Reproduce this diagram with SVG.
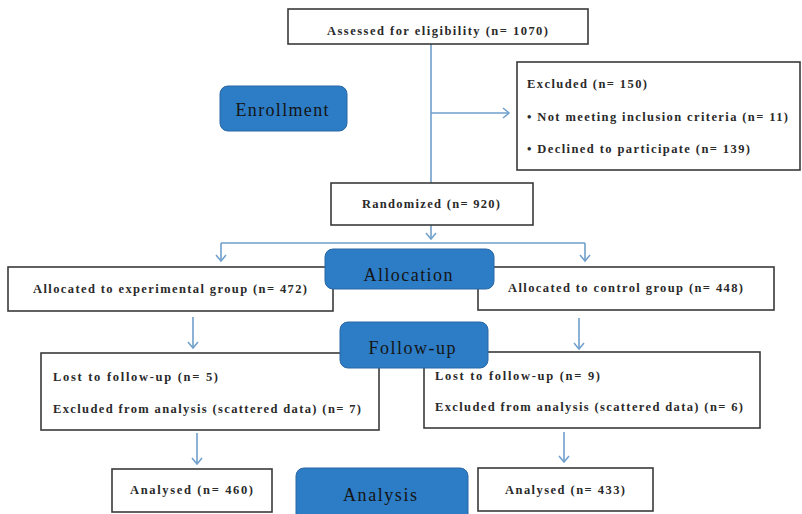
<svg xmlns="http://www.w3.org/2000/svg" width="802" height="514" viewBox="0 0 802 514">
<defs>
<style>
.box{fill:#fff;stroke:#3a3a3a;stroke-width:1.6}
.stage{fill:#2c7cc6;stroke:#2a67a3;stroke-width:1}
.t{font-family:"Liberation Serif",serif;font-size:12.5px;font-weight:bold;fill:#2a2a2a}
.h{font-family:"Liberation Serif",serif;font-size:18px;fill:#151515;text-anchor:middle}
.c{fill:none;stroke:#6f9fcb;stroke-width:1.6}
</style>
<marker id="arr" markerUnits="userSpaceOnUse" markerWidth="14" markerHeight="14" refX="7" refY="7" orient="auto">
<path d="M1,2 L7,7 L1,12" fill="none" stroke="#6f9fcb" stroke-width="1.5"/>
</marker>
</defs>
<rect width="802" height="514" fill="#fff"/>

<g id="connectors">
<line class="c" x1="431" y1="44" x2="431" y2="183"/>
<line class="c" x1="431" y1="113" x2="509" y2="113" marker-end="url(#arr)"/>
<line class="c" x1="431" y1="225" x2="431" y2="239" marker-end="url(#arr)"/>
<line class="c" x1="221" y1="243" x2="585" y2="243"/>
<line class="c" x1="221" y1="243" x2="221" y2="261" marker-end="url(#arr)"/>
<line class="c" x1="585" y1="243" x2="585" y2="261" marker-end="url(#arr)"/>
<line class="c" x1="193" y1="317" x2="193" y2="348" marker-end="url(#arr)"/>
<line class="c" x1="579" y1="318" x2="579" y2="349" marker-end="url(#arr)"/>
<line class="c" x1="197" y1="433" x2="197" y2="464" marker-end="url(#arr)"/>
<line class="c" x1="564" y1="432" x2="564" y2="462" marker-end="url(#arr)"/>
</g>

<g id="assessed">
<rect class="box" x="288" y="9" width="300" height="35"/>
<text class="t" x="327" y="35" textLength="221" lengthAdjust="spacing">Assessed for eligibility (n= 1070)</text>
</g>

<g id="enrollment">
<rect class="stage" x="220" y="86" width="127" height="45" rx="8"/>
<text class="h" x="282" y="116" font-size="17" textLength="93" lengthAdjust="spacing">Enrollment</text>
</g>

<g id="excluded">
<rect class="box" x="517" y="62" width="283" height="108"/>
<text class="t" x="527" y="88" textLength="120" lengthAdjust="spacing">Excluded (n= 150)</text>
<text class="t" x="527" y="121" textLength="261" lengthAdjust="spacing">• Not meeting inclusion criteria (n= 11)</text>
<text class="t" x="527" y="153" textLength="223" lengthAdjust="spacing">• Declined to participate (n= 139)</text>
</g>

<g id="randomized">
<rect class="box" x="331" y="183" width="202" height="42"/>
<text class="t" x="362" y="208" textLength="138" lengthAdjust="spacing">Randomized (n= 920)</text>
</g>

<g id="alloc-exp">
<rect class="box" x="8" y="267" width="325" height="44"/>
<text class="t" x="33" y="293" textLength="274" lengthAdjust="spacing">Allocated to experimental group (n= 472)</text>
</g>

<g id="alloc-ctrl">
<rect class="box" x="478" y="267" width="296" height="43"/>
<text class="t" x="508" y="292" textLength="235" lengthAdjust="spacing">Allocated to control group (n= 448)</text>
</g>

<g id="allocation">
<rect class="stage" x="325" y="249" width="169" height="40" rx="8"/>
<text class="h" x="408" y="281" textLength="89" lengthAdjust="spacing">Allocation</text>
</g>

<g id="follow-exp">
<rect class="box" x="41" y="353" width="338" height="77"/>
<text class="t" x="53" y="381" textLength="165" lengthAdjust="spacing">Lost to follow-up  (n= 5)</text>
<text class="t" x="53" y="413" textLength="308" lengthAdjust="spacing">Excluded from analysis (scattered data) (n= 7)</text>
</g>

<g id="follow-ctrl">
<rect class="box" x="424" y="352" width="336" height="76"/>
<text class="t" x="435" y="380" textLength="165" lengthAdjust="spacing">Lost to follow-up  (n= 9)</text>
<text class="t" x="435" y="411" textLength="308" lengthAdjust="spacing">Excluded from analysis (scattered data) (n= 6)</text>
</g>

<g id="follow-up">
<rect class="stage" x="340" y="322" width="148" height="46" rx="8"/>
<text class="h" x="412" y="354" textLength="87" lengthAdjust="spacing">Follow-up</text>
</g>

<g id="analysed-exp">
<rect class="box" x="112" y="469" width="160" height="43"/>
<text class="t" x="130" y="494" textLength="123" lengthAdjust="spacing">Analysed (n= 460)</text>
</g>

<g id="analysis">
<rect class="stage" x="296" y="468" width="172" height="60" rx="8"/>
<text class="h" x="380" y="501" textLength="74" lengthAdjust="spacing">Analysis</text>
</g>

<g id="analysed-ctrl">
<rect class="box" x="478" y="468" width="175" height="43"/>
<text class="t" x="505" y="494" textLength="120" lengthAdjust="spacing">Analysed (n= 433)</text>
</g>
</svg>
